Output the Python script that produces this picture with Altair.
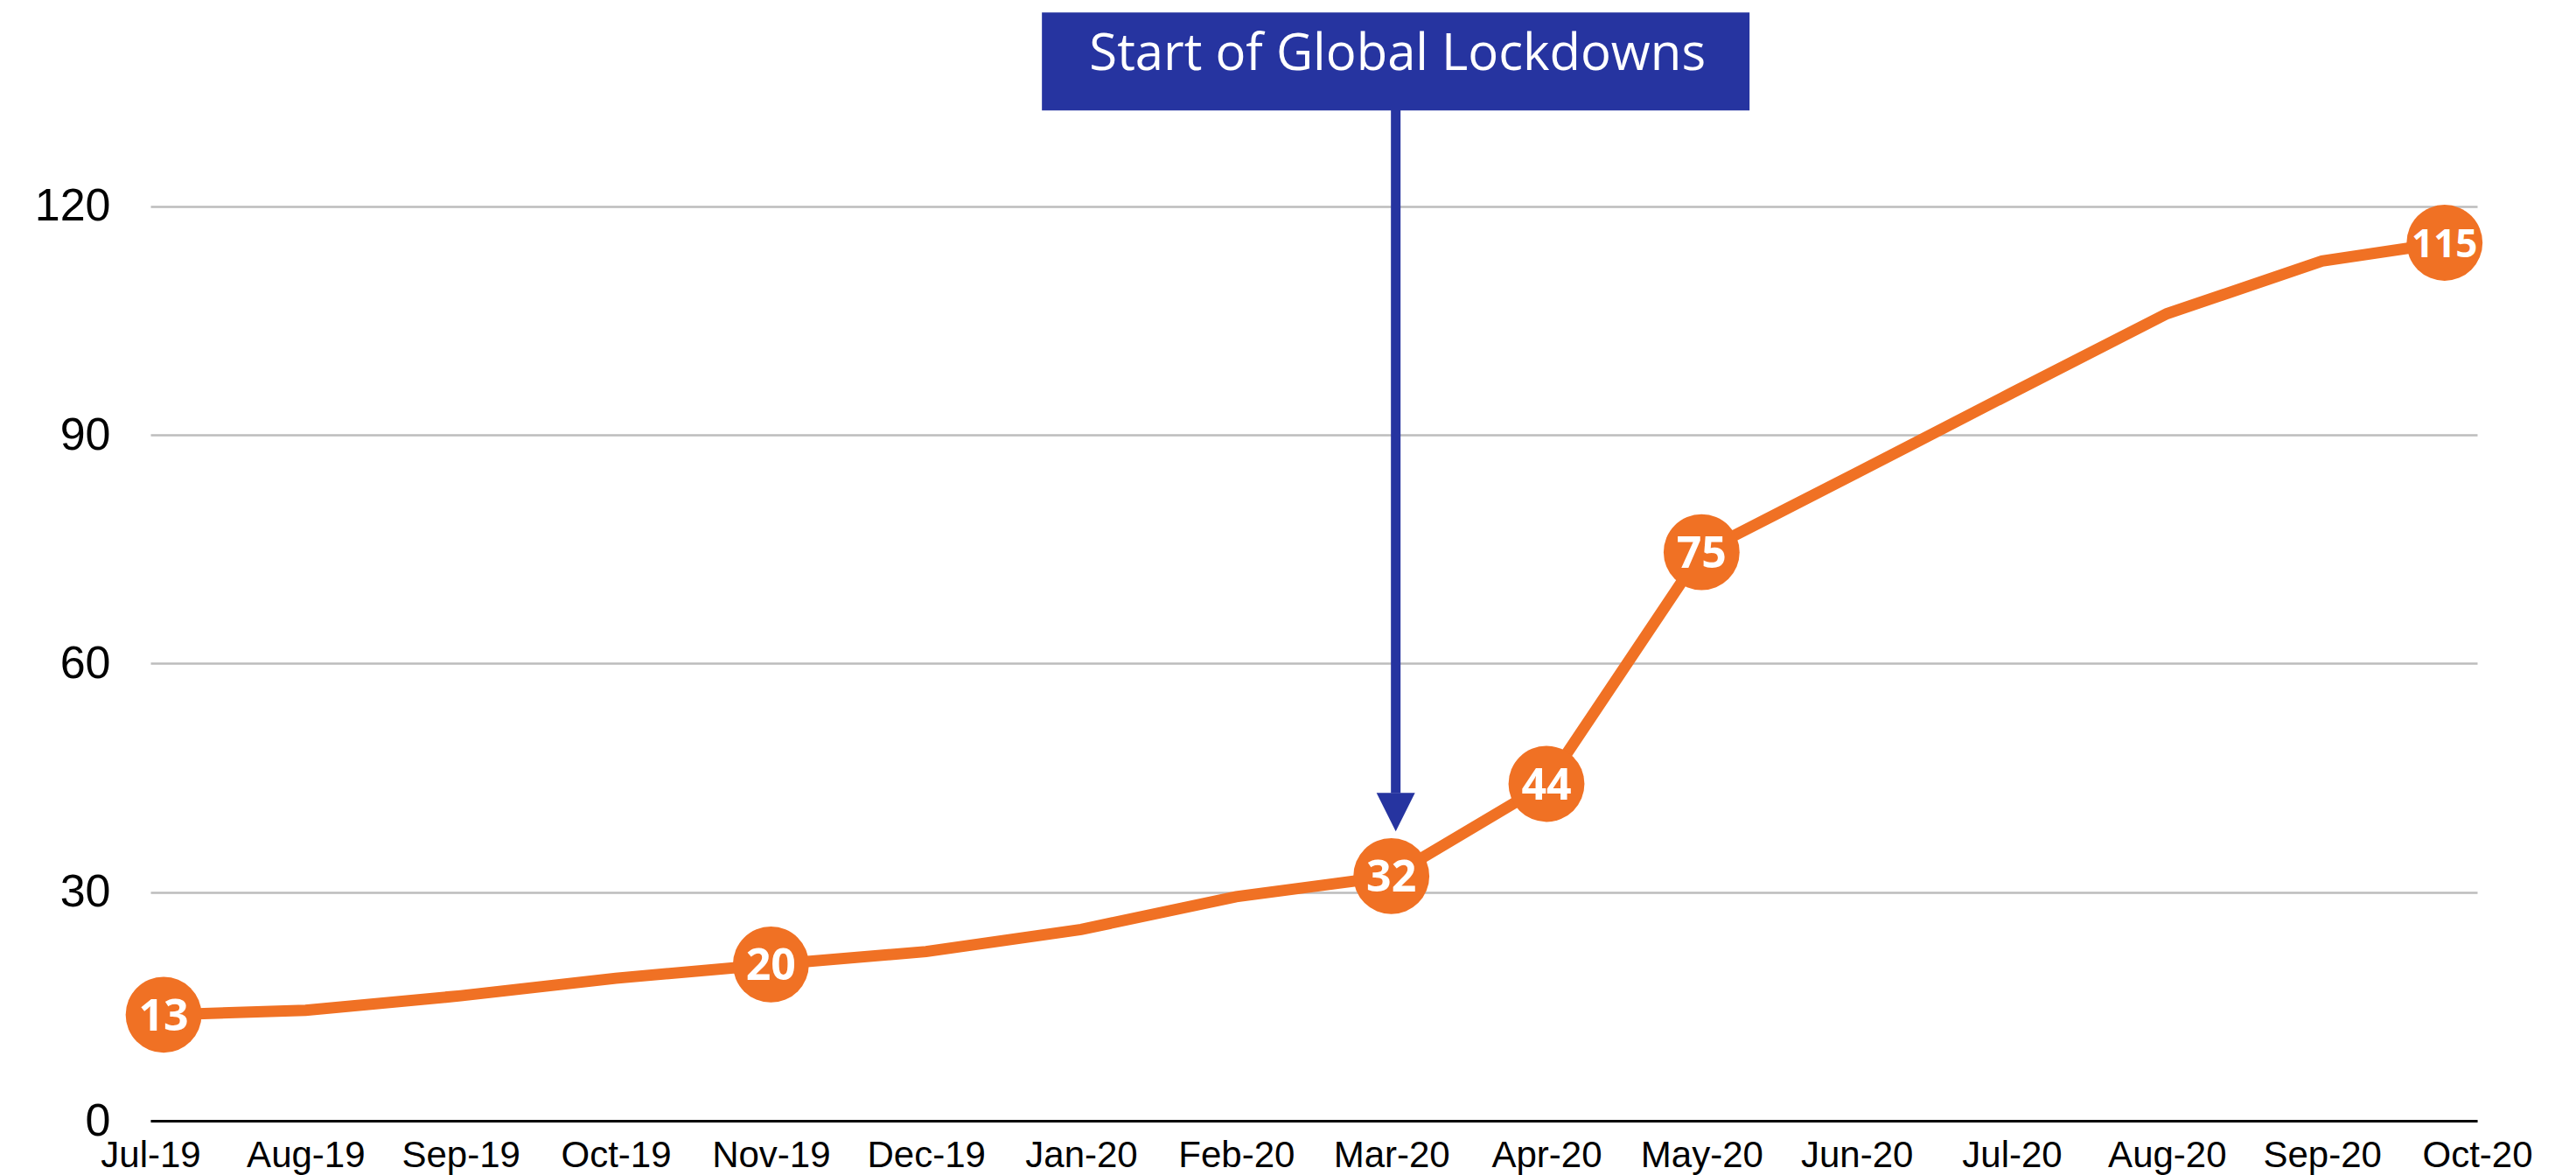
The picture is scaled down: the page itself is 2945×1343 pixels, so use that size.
import altair as alt
import pandas as pd

# ---- data ----
months = ["Jul-19", "Aug-19", "Sep-19", "Oct-19", "Nov-19", "Dec-19", "Jan-20", "Feb-20",
          "Mar-20", "Apr-20", "May-20", "Jun-20", "Jul-20", "Aug-20", "Sep-20", "Oct-20"]
month_pos = [0.085, 1, 2, 3, 4, 5, 6, 7, 8, 9, 10, 11, 12, 13, 14, 14.79]
values = [13.9, 14.5, 16.4, 18.7, 20.5, 22.2, 25.1, 29.4, 32.1, 44.2, 74.6, 85.0, 95.5, 105.9, 112.8, 115.2]
point_labels = ["13", "", "", "", "20", "", "", "", "32", "44", "75", "", "", "", "", "115"]
y_ticks = [0, 30, 60, 90, 120]

ann_text = ["Start of Global Lockdowns"]
ann_pos = [8]            # Mar-20
ann_box_y = [139.0]
ann_text_y = [137.9]
ann_shaft_top = [132.6]
ann_shaft_bottom = [43.0]
ann_head_y = [40.5]

ORANGE = "#F07124"
BLUE = "#2634A0"

df = pd.DataFrame({"pos": month_pos, "value": values, "label": point_labels, "month": months})
ann = pd.DataFrame({"pos": ann_pos, "box_y": ann_box_y, "text_y": ann_text_y,
                    "top": ann_shaft_top, "bottom": ann_shaft_bottom, "head": ann_head_y,
                    "text": ann_text})

label_arr = "[" + ",".join("'%s'" % m for m in months) + "]"

xscale = alt.Scale(domain=[0, 15], nice=False, zero=False)
yscale = alt.Scale(domain=[0, 145.45], nice=False, zero=True)

x_enc = alt.X("pos:Q", scale=xscale, title=None,
              axis=alt.Axis(values=list(range(16)), labelExpr=label_arr + "[datum.value]",
                            grid=False, ticks=False, domain=True, domainColor="black",
                            domainWidth=3, labelFont="Liberation Sans", labelFontSize=42,
                            labelColor="black", labelPadding=19, labelOverlap=False,
                            labelFlush=False))
y_enc = alt.Y("value:Q", scale=yscale, title=None,
              axis=alt.Axis(values=y_ticks, grid=True, gridColor="#BDBDBD", gridWidth=2.5,
                            domain=False, ticks=False, labelFont="Liberation Sans",
                            labelFontSize=52, labelColor="black", labelPadding=46))

base = alt.Chart(df)
line = base.mark_line(color=ORANGE, strokeWidth=13).encode(x=x_enc, y=y_enc)
circles = base.transform_filter("datum.label != ''").mark_circle(
    size=7540, color=ORANGE, opacity=1).encode(x="pos:Q", y="value:Q")
texts = base.transform_filter("datum.label != ''").mark_text(
    font="Open Sans", fontWeight="bold", color="white",
    baseline="middle", align="center", dy=3).encode(
    x="pos:Q", y="value:Q", text="label:N",
    size=alt.condition("length(datum.label) > 2", alt.value(44), alt.value(50)))

abase = alt.Chart(ann)
box = abase.mark_rect(width=809, height=112, color=BLUE, xOffset=5).encode(
    x="pos:Q", y="box_y:Q")
btext = abase.mark_text(font="Open Sans", fontSize=58, color="white", align="center",
                        baseline="alphabetic", dx=7).encode(x="pos:Q", y="text_y:Q", text="text:N")
shaft = abase.mark_rule(color=BLUE, strokeWidth=11, xOffset=5).encode(
    x="pos:Q", y="top:Q", y2="bottom:Q")
head = abase.mark_point(shape="M-1,-1L1,-1L0,1Z", size=1936, filled=True, color=BLUE,
                        opacity=1, strokeWidth=0, xOffset=5).encode(x="pos:Q", y="head:Q")

chart = alt.layer(line, circles, texts, shaft, head, box, btext).properties(
    width=2660, height=1267,
    background="white",
    autosize=alt.AutoSizeParams(type="none"),
    padding={"left": 164, "top": 6, "right": 90, "bottom": 62},
).configure_view(strokeWidth=0, stroke="transparent")

chart.save("out.html", embed_options={"renderer": "svg", "actions": False})
